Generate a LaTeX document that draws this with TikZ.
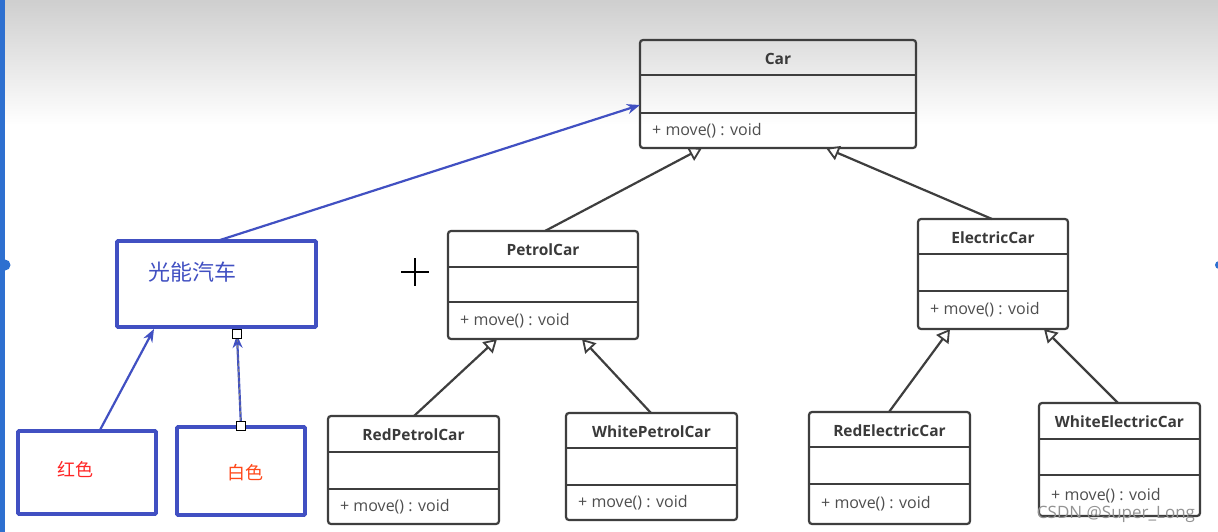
\documentclass[tikz,border=0pt]{standalone}
\usepackage{fontspec}
\setmainfont{Open Sans}
\newfontfamily\cjk{Noto Sans CJK SC}
\usetikzlibrary{arrows.meta,fit,calc}
\definecolor{umlgray}{HTML}{3E3E3E}
\definecolor{txtgray}{HTML}{3A3A3A}
\definecolor{bluel}{HTML}{4150C2}
\definecolor{barblue}{HTML}{2E70D0}
\tikzset{
  umlbox/.style={draw=umlgray, line width=2.2pt, rounded corners=3pt, inner sep=0pt},
  umlline/.style={draw=umlgray, line width=2.2pt},
  ctitle/.style={font=\bfseries\fontsize{15.5}{17}\selectfont, text=txtgray, inner sep=0pt},
  cop/.style={font=\fontsize{16}{18}\selectfont, text=txtgray!90, inner sep=0pt, anchor=west},
  inh/.style={draw=umlgray, line width=2.2pt, -{Triangle[fill=white,length=13pt,width=15pt,line width=1.8pt]}},
  bluebox/.style={draw=bluel, line width=3.8pt, inner sep=0pt, rounded corners=1pt},
  bluearrow/.style={draw=bluel, line width=2.2pt, -{Stealth[length=13pt,width=10pt]}},
  handle/.style={draw=black, fill=white, line width=0.9pt, minimum size=9pt, inner sep=0pt},
}
\newcommand\umlcls[8]{%
  \node[umlbox, fit={(#2,#4) (#3,#7)}] (#1) {};
  \draw[umlline] (#2,#5) -- (#3,#5);
  \draw[umlline] (#2,#6) -- (#3,#6);
  \node[ctitle] (#1t) at ({(#2+#3)/2},{(#4+#5)/2+1}) {#8};
  \node[cop] (#1m) at ({#2+12},{(#6+#7)/2}) {+ move() : void};
}
\begin{document}
\begin{tikzpicture}[x=1pt,y=-1pt]
\useasboundingbox (0,0) rectangle (1218,532);
\fill[white] (0,0) rectangle (1218,532);
\shade[top color=black!19, bottom color=white] (0,0) rectangle (1218,125);
\fill[barblue] (0,0) rectangle (5,532);
\fill[barblue] (5,265) circle (5.5pt);
\fill[barblue] (1219,265) circle (4pt);

% UML classes
\umlcls{car}{640}{916}{40}{75}{113}{148}{Car}
\umlcls{petrol}{448}{638}{231}{267}{302}{339}{PetrolCar}
\umlcls{elec}{918}{1068}{219}{254}{291}{329}{ElectricCar}
\umlcls{rpc}{328}{499}{416}{452}{489}{524}{RedPetrolCar}
\umlcls{wpc}{566}{737}{413}{448}{485}{520}{WhitePetrolCar}
\umlcls{rec}{809}{970}{412}{447}{484}{524}{RedElectricCar}
\umlcls{wec}{1039}{1200}{403}{439}{475}{516}{WhiteElectricCar}

% inheritance
\coordinate (carL) at (702,148);
\coordinate (carR) at (826,148);
\coordinate (petL) at (497,339);
\coordinate (petR) at (582,339);
\coordinate (elL) at (950,329);
\coordinate (elR) at (1044,329);
\draw[inh] (545,231) -- (carL);
\draw[inh] (992,219) -- (carR);
\draw[inh] (414,416) -- (petL);
\draw[inh] (651,413) -- (petR);
\draw[inh] (889,412) -- (elL);
\draw[inh] (1118,403) -- (elR);

% blue part
\node[bluebox, fit={(117,241) (316,327)}] (gn) {};
\node[font=\cjk\fontsize{22}{24}\selectfont, text=bluel, anchor=west, inner sep=0pt] (gnt) at (148,272) {光能汽车};
\node[bluebox, fit={(18,431) (156,514)}] (red) {};
\node[font=\cjk\fontsize{18}{20}\selectfont, text=red!85!white, inner sep=0pt] (redt) at (75,469) {红色};
\node[bluebox, fit={(177,427) (305,515)}] (white) {};
\node[font=\cjk\fontsize{18}{20}\selectfont, text=orange!40!red!90!white, inner sep=0pt] (whitet) at (245,473) {白色};

\coordinate (gnTop) at (217,241);
\coordinate (carLeft) at (640,105);
\draw[bluearrow] (gnTop) -- (carLeft);
\coordinate (redTop) at (100,430);
\coordinate (gnB1) at (154,329);
\draw[bluearrow] (redTop) -- (gnB1);
\coordinate (whTop) at (241,426);
\coordinate (gnB2) at (237,335);
\draw[bluearrow] (whTop) -- (gnB2);
\draw[gray, line width=0.9pt, dashed] (whTop) -- (gnB2);
\node[handle] (h1) at (237,334) {};
\node[handle] (h2) at (241,426) {};

% plus sign
\draw[black, line width=2.2pt] (401,272) -- (429,272);
\draw[black, line width=2.2pt] (415,258) -- (415,286);

% watermark
\node[font=\fontsize{17}{19}\selectfont, text=gray!85, inner sep=0pt] (wm) at (1116,514) {CSDN @Super\_Long};
\end{tikzpicture}
\end{document}
